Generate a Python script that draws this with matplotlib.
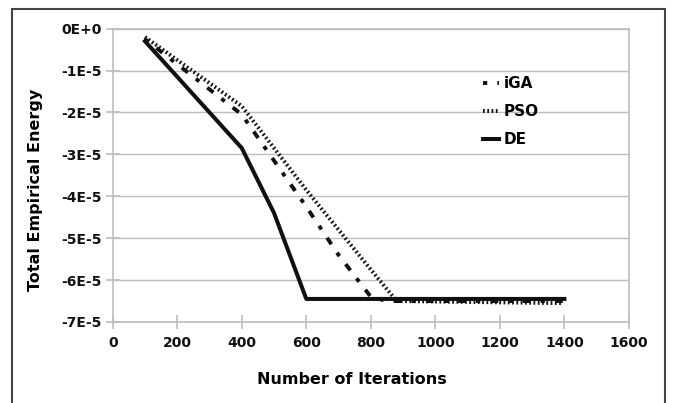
import matplotlib.pyplot as plt
import matplotlib.patches as patches
from matplotlib.ticker import FuncFormatter

plt.rcParams['font.family'] = ['DejaVu Sans']

GRID = '#bdbdbd'
INK = '#111111'

# energies in units of 1E-5
iga_iter = [100, 200, 300, 400, 500, 600, 700, 800, 850, 1400]
iga_energy = [-0.25, -0.85, -1.45, -2.05, -3.15, -4.25, -5.4, -6.4, -6.5, -6.5]

pso_iter = [100, 200, 300, 400, 500, 600, 700, 800, 880, 1390]
pso_energy = [-0.2, -0.75, -1.3, -1.85, -2.85, -3.85, -4.8, -5.75, -6.5, -6.55]

de_iter = [100, 200, 300, 400, 500, 600, 700, 800, 900, 1000, 1100, 1200, 1300, 1400]
de_energy = [-0.3, -1.15, -2.0, -2.85, -4.4, -6.45, -6.45, -6.45, -6.45, -6.45,
             -6.45, -6.45, -6.45, -6.45]

x_ticks = [0, 200, 400, 600, 800, 1000, 1200, 1400, 1600]
y_ticks = [0, -1, -2, -3, -4, -5, -6, -7]


def sci_label(v, pos):
    if abs(v) < 1e-12:
        return '0E+0'
    return f'{int(round(v / 1e-5))}E-5'


fig = plt.figure(figsize=(6.73, 4.03), dpi=100, facecolor='white')
ax = fig.add_axes([0.1675, 0.201, 0.767, 0.728])

ax.plot(iga_iter, [e * 1e-5 for e in iga_energy], color=INK, lw=2.8,
        linestyle=(0, (1.1, 2.6, 2.0, 2.6)), label='iGA', zorder=3)
ax.plot(pso_iter, [e * 1e-5 for e in pso_energy], color=INK, lw=2.8,
        linestyle=(0, (0.45, 0.65)), label='PSO', zorder=3)
ax.plot(de_iter, [e * 1e-5 for e in de_energy], color=INK, lw=2.9,
        linestyle='-', label='DE', zorder=4)

ax.set_xlim(0, 1600)
ax.set_ylim(-7e-5, 0)
ax.set_xticks(x_ticks)
ax.set_yticks([t * 1e-5 for t in y_ticks])
ax.yaxis.set_major_formatter(FuncFormatter(sci_label))
ax.grid(axis='y', color=GRID, lw=1.0)
ax.set_axisbelow(True)
for s in ax.spines.values():
    s.set_color(GRID)
    s.set_linewidth(1.2)
ax.tick_params(direction='inout', length=10, width=1.2, color=GRID,
               labelsize=10, labelcolor=INK)
ax.tick_params(axis='y', pad=3)
ax.tick_params(axis='x', pad=5)
for lab in ax.get_xticklabels() + ax.get_yticklabels():
    lab.set_fontweight('bold')

ax.set_xlabel('Number of Iterations', fontsize=11.5, fontweight='bold')
ax.xaxis.set_label_coords(0.464, -0.17)
ax.set_ylabel('Total Empirical Energy', fontsize=11.5, fontweight='bold')
ax.yaxis.set_label_coords(-0.135, 0.45)

leg = ax.legend(loc='upper left', bbox_to_anchor=(0.69, 0.885), frameon=False,
                handlelength=1.1, handletextpad=0.25, labelspacing=0.85,
                prop={'weight': 'bold', 'size': 11})

border = patches.Rectangle((12 / 673, -0.05), (665 - 12) / 673, 1 - 9 / 403 + 0.05,
                           transform=fig.transFigure, fill=False,
                           edgecolor='#444444', linewidth=1.5, clip_on=False)
fig.patches.append(border)

fig.savefig('out.png', dpi=100, facecolor='white')
